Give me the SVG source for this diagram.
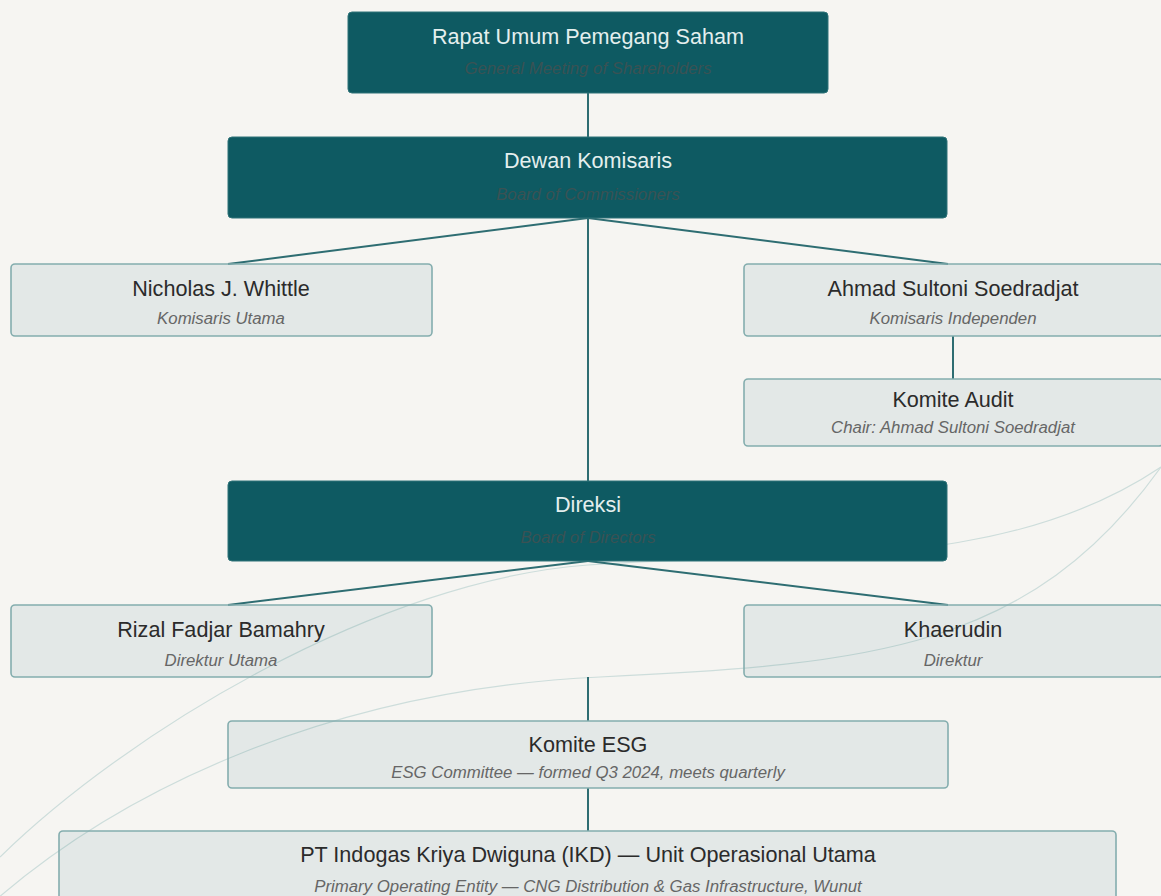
<svg xmlns="http://www.w3.org/2000/svg" width="1161" height="896" viewBox="0 0 1161 896">
  <style>
    .bg { fill: #f6f5f2; }
    .deco { fill: none; stroke: #cddddb; stroke-width: 1.2; }
    .dark { fill: #0e5a62; stroke: #2f7378; stroke-width: 1; }
    .light { fill: #0e5a62; fill-opacity: 0.08; stroke: #84adae; stroke-width: 1.6; }
    .conn { fill: none; stroke: #2e6d72; stroke-width: 2; }
    .t { font-family: "Liberation Sans", Arial, sans-serif; text-anchor: middle; }
    .dt { font-size: 21.6px; fill: #e4efee; }
    .ds { font-size: 16.8px; font-style: italic; fill: #3a5254; }
    .lt { font-size: 21.6px; fill: #2b2b2b; }
    .ls { font-size: 16.8px; font-style: italic; fill: #666666; }
  </style>
  <rect class="bg" x="0" y="0" width="1161" height="896"/>
  <g id="decoration">
    <path class="deco" d="M0,857 C130,730 380,580 588,565 S1000,575 1161,467"/>
    <path class="deco" d="M-10,905 C120,790 330,690 600,677 S1030,650 1161,467"/>
  </g>
  <g id="connectors">
    <line class="conn" x1="588" y1="93" x2="588" y2="137"/>
    <line class="conn" x1="588" y1="218" x2="228" y2="264"/>
    <line class="conn" x1="588" y1="218" x2="948" y2="264"/>
    <line class="conn" x1="588" y1="218" x2="588" y2="481"/>
    <line class="conn" x1="953" y1="336" x2="953" y2="379"/>
    <line class="conn" x1="588" y1="561" x2="228" y2="605"/>
    <line class="conn" x1="588" y1="561" x2="948" y2="605"/>
    <line class="conn" x1="588" y1="677" x2="588" y2="721"/>
    <line class="conn" x1="588" y1="788" x2="588" y2="831"/>
  </g>
  <g id="rups">
    <rect class="dark" x="348" y="12" width="480" height="81" rx="4"/>
    <text class="t dt" x="588" y="44">Rapat Umum Pemegang Saham</text>
    <text class="t ds" x="588" y="74">General Meeting of Shareholders</text>
  </g>
  <g id="dewan-komisaris">
    <rect class="dark" x="228" y="137" width="719" height="81" rx="4"/>
    <text class="t dt" x="588" y="168">Dewan Komisaris</text>
    <text class="t ds" x="588" y="200">Board of Commissioners</text>
  </g>
  <g id="nicholas">
    <rect class="light" x="11" y="264" width="421" height="72" rx="4"/>
    <text class="t lt" x="221" y="296">Nicholas J. Whittle</text>
    <text class="t ls" x="221" y="324">Komisaris Utama</text>
  </g>
  <g id="ahmad">
    <rect class="light" x="744" y="264" width="419" height="72" rx="4"/>
    <text class="t lt" x="953" y="296">Ahmad Sultoni Soedradjat</text>
    <text class="t ls" x="953" y="324">Komisaris Independen</text>
  </g>
  <g id="komite-audit">
    <rect class="light" x="744" y="379" width="419" height="67" rx="4"/>
    <text class="t lt" x="953" y="407">Komite Audit</text>
    <text class="t ls" x="953" y="433">Chair: Ahmad Sultoni Soedradjat</text>
  </g>
  <g id="direksi">
    <rect class="dark" x="228" y="481" width="719" height="80" rx="4"/>
    <text class="t dt" x="588" y="512">Direksi</text>
    <text class="t ds" x="588" y="543">Board of Directors</text>
  </g>
  <g id="rizal">
    <rect class="light" x="11" y="605" width="421" height="72" rx="4"/>
    <text class="t lt" x="221" y="637">Rizal Fadjar Bamahry</text>
    <text class="t ls" x="221" y="666">Direktur Utama</text>
  </g>
  <g id="khaerudin">
    <rect class="light" x="744" y="605" width="419" height="72" rx="4"/>
    <text class="t lt" x="953" y="637">Khaerudin</text>
    <text class="t ls" x="953" y="666">Direktur</text>
  </g>
  <g id="komite-esg">
    <rect class="light" x="228" y="721" width="720" height="67" rx="4"/>
    <text class="t lt" x="588" y="752">Komite ESG</text>
    <text class="t ls" x="588" y="778">ESG Committee — formed Q3 2024, meets quarterly</text>
  </g>
  <g id="pt-ikd">
    <rect class="light" x="59" y="831" width="1057" height="80" rx="4"/>
    <text class="t lt" x="588" y="862">PT Indogas Kriya Dwiguna (IKD) — Unit Operasional Utama</text>
    <text class="t ls" x="588" y="892">Primary Operating Entity — CNG Distribution &amp; Gas Infrastructure, Wunut</text>
  </g>
</svg>
